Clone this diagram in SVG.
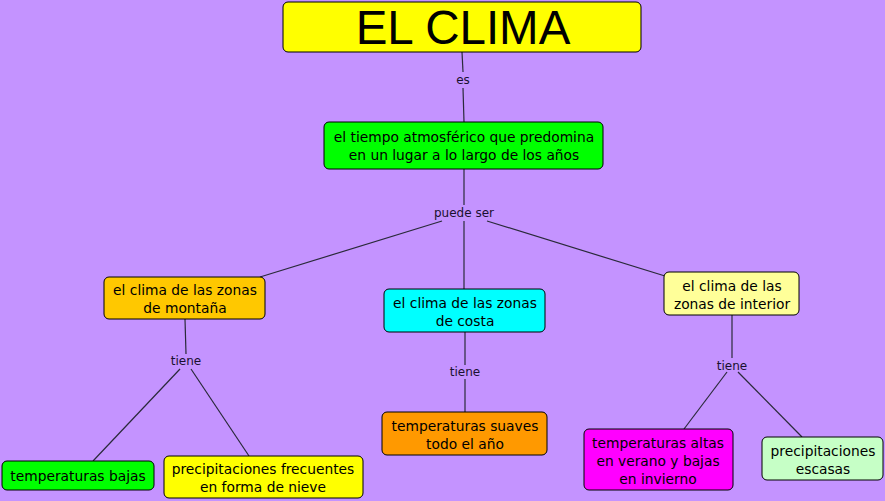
<svg xmlns="http://www.w3.org/2000/svg" width="885" height="501" viewBox="0 0 885 501">
<style>
.n{stroke:#000;stroke-width:1}
.t{font-family:"DejaVu Sans",Verdana,sans-serif;font-size:13.8px;fill:#000;text-anchor:middle}
.l{font-family:"DejaVu Sans",Verdana,sans-serif;font-size:12px;fill:#1a1030;text-anchor:middle}
.c line{stroke:#2a2a3a;stroke-width:1.2}
</style>
<rect width="885" height="501" fill="#C493FF"/>
<g class="c" id="connectors">
<line x1="462" y1="52" x2="463" y2="72"/>
<line x1="463" y1="88" x2="464" y2="122"/>
<line x1="464" y1="169" x2="464" y2="205"/>
<line x1="442" y1="221" x2="260" y2="277"/>
<line x1="464" y1="221" x2="464" y2="289"/>
<line x1="487" y1="221" x2="665" y2="276"/>
<line x1="185" y1="319" x2="186" y2="354"/>
<line x1="180" y1="369" x2="93" y2="461"/>
<line x1="191" y1="369" x2="249" y2="456"/>
<line x1="465" y1="332" x2="465" y2="365"/>
<line x1="465" y1="379" x2="465" y2="412"/>
<line x1="732" y1="315" x2="732" y2="358"/>
<line x1="727" y1="372" x2="684" y2="429"/>
<line x1="738" y1="372" x2="802" y2="437"/>
<text class="l" x="463" y="84">es</text>
<text class="l" x="464" y="217">puede ser</text>
<text class="l" x="186" y="365">tiene</text>
<text class="l" x="465" y="376">tiene</text>
<text class="l" x="732" y="370">tiene</text>
</g>
<g id="title">
<rect class="n" x="283" y="2" width="358" height="50" rx="5" fill="#FFFF00"/>
<text x="463" y="44" font-family="'Liberation Sans',Arial,sans-serif" font-size="47.5" text-anchor="middle" fill="#000">EL CLIMA</text>
</g>
<g id="def">
<rect class="n" x="324" y="122" width="279" height="47" rx="5" fill="#00FF00"/>
<text class="t" x="464" y="142">el tiempo atmosférico que predomina</text>
<text class="t" x="464" y="160">en un lugar a lo largo de los años</text>
</g>
<g id="montana">
<rect class="n" x="104" y="277" width="161" height="42" rx="5" fill="#FFC800"/>
<text class="t" x="185" y="295">el clima de las zonas</text>
<text class="t" x="185" y="313">de montaña</text>
</g>
<g id="costa">
<rect class="n" x="384" y="289" width="161" height="43" rx="5" fill="#00FFFF"/>
<text class="t" x="465" y="308">el clima de las zonas</text>
<text class="t" x="465" y="326">de costa</text>
</g>
<g id="interior">
<rect class="n" x="664" y="272" width="135" height="43" rx="5" fill="#FFFF99"/>
<text class="t" x="732" y="291">el clima de las</text>
<text class="t" x="732" y="309">zonas de interior</text>
</g>
<g id="tbajas">
<rect class="n" x="2" y="461" width="152" height="29" rx="5" fill="#00FF00"/>
<text class="t" x="78" y="481">temperaturas bajas</text>
</g>
<g id="pfrec">
<rect class="n" x="164" y="456" width="199" height="42" rx="5" fill="#FFFF00"/>
<text class="t" x="263" y="474">precipitaciones frecuentes</text>
<text class="t" x="263" y="492">en forma de nieve</text>
</g>
<g id="tsuaves">
<rect class="n" x="382" y="412" width="165" height="43" rx="5" fill="#FF9900"/>
<text class="t" x="465" y="431">temperaturas suaves</text>
<text class="t" x="465" y="449">todo el año</text>
</g>
<g id="taltas">
<rect class="n" x="584" y="429" width="149" height="61" rx="5" fill="#FF00FF"/>
<text class="t" x="658" y="448">temperaturas altas</text>
<text class="t" x="658" y="466">en verano y bajas</text>
<text class="t" x="658" y="484">en invierno</text>
</g>
<g id="pescasas">
<rect class="n" x="762" y="437" width="121" height="43" rx="5" fill="#C6FFC6"/>
<text class="t" x="823" y="456">precipitaciones</text>
<text class="t" x="823" y="474">escasas</text>
</g>
</svg>
